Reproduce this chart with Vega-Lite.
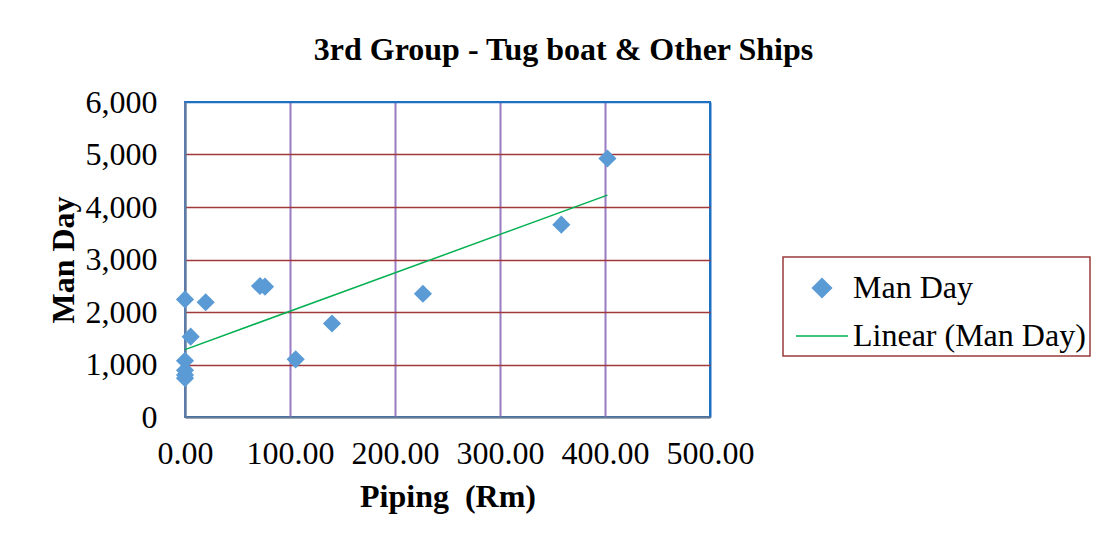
{
  "$schema": "https://vega.github.io/schema/vega-lite/v6.json",
  "width": 525,
  "height": 315,
  "autosize": {"type": "none"},
  "padding": {"left": 185, "top": 102, "right": 391, "bottom": 126},
  "background": "white",
  "title": {
    "text": "3rd Group - Tug boat & Other Ships",
    "font": "Liberation Serif",
    "fontSize": 32,
    "fontWeight": "bold",
    "color": "black",
    "anchor": "middle",
    "dx": 116,
    "offset": 19
  },
  "data": {
    "values": [
      {"Piping": 0, "Man Day": 2240},
      {"Piping": 19.7, "Man Day": 2185},
      {"Piping": 71.4, "Man Day": 2495},
      {"Piping": 76.2, "Man Day": 2482},
      {"Piping": 5.4, "Man Day": 1530},
      {"Piping": 0, "Man Day": 1072},
      {"Piping": 0, "Man Day": 890},
      {"Piping": 0, "Man Day": 800},
      {"Piping": 0, "Man Day": 740},
      {"Piping": 105.4, "Man Day": 1099},
      {"Piping": 140, "Man Day": 1781},
      {"Piping": 226.6, "Man Day": 2347},
      {"Piping": 358.4, "Man Day": 3664},
      {"Piping": 402.3, "Man Day": 4924}
    ]
  },
  "layer": [
    {
      "mark": {"type": "point", "shape": "diamond", "filled": true, "size": 330, "opacity": 1},
      "encoding": {
        "x": {
          "field": "Piping",
          "type": "quantitative",
          "scale": {"domain": [0, 500], "nice": false},
          "axis": {
            "values": [0, 100, 200, 300, 400, 500],
            "format": ".2f",
            "title": "Piping \u00a0(Rm)",
            "labelPadding": 21,
            "titlePadding": 12,
            "gridColor": {"condition": {"test": "datum.value === 500", "value": "#1f70c1"}, "value": "#9a7bc2"},
            "gridWidth": 2
          }
        },
        "y": {
          "field": "Man Day",
          "type": "quantitative",
          "scale": {"domain": [0, 6000], "nice": false},
          "axis": {
            "values": [0, 1000, 2000, 3000, 4000, 5000, 6000],
            "format": ",.0f",
            "title": "Man Day",
            "labelPadding": 28,
            "titlePadding": 5,
            "gridColor": {"condition": {"test": "datum.value === 6000", "value": "#1f70c1"}, "value": "#a03a3a"},
            "gridWidth": 1.5
          }
        },
        "color": {
          "datum": "Man Day",
          "scale": {"domain": ["Man Day", "Linear (Man Day)"], "range": ["#5b9bd5", "#00b050"]},
          "legend": {
            "orient": "none",
            "legendX": 598,
            "legendY": 155,
            "title": null,
            "padding": 4,
            "symbolOffset": 8,
            "labelOffset": 4,
            "rowPadding": 5,
            "symbolSize": 2704,
            "symbolStrokeWidth": 1.5,
            "symbolOpacity": 1,
            "strokeColor": "#983b3b",
            "labelFont": "Liberation Serif",
            "labelFontSize": 32,
            "labelColor": "black",
            "labelLimit": 400,
            "encode": {
              "symbols": {
                "update": {
                  "shape": {"signal": "datum.value === 'Man Day' ? 'diamond' : 'stroke'"},
                  "size": {"signal": "datum.value === 'Man Day' ? 360 : 2704"},
                  "fill": {"signal": "datum.value === 'Man Day' ? '#5b9bd5' : 'transparent'"},
                  "stroke": {"signal": "datum.value === 'Man Day' ? 'transparent' : '#00b050'"}
                }
              },
              "legend": {
                "update": {
                  "strokeWidth": {"signal": "1.5"}
                }
              }
            }
          }
        }
      }
    },
    {
      "transform": [{"regression": "Man Day", "on": "Piping"}],
      "mark": {"type": "line", "strokeWidth": 1.5},
      "encoding": {
        "x": {"field": "Piping", "type": "quantitative"},
        "y": {"field": "Man Day", "type": "quantitative"},
        "color": {"datum": "Linear (Man Day)"}
      }
    }
  ],
  "config": {
    "view": {"stroke": "#1f70c1", "strokeWidth": 2},
    "axis": {
      "zindex": 0,
      "ticks": false,
      "labelFont": "Liberation Serif",
      "labelFontSize": 32,
      "labelColor": "black",
      "labelFlush": false,
      "labelOverlap": false,
      "labelBound": false,
      "titleFont": "Liberation Serif",
      "titleFontSize": 32,
      "titleFontWeight": "bold",
      "titleColor": "black",
      "domainColor": "#5b7f9c",
      "domainWidth": 2,
      "grid": true
    }
  }
}
